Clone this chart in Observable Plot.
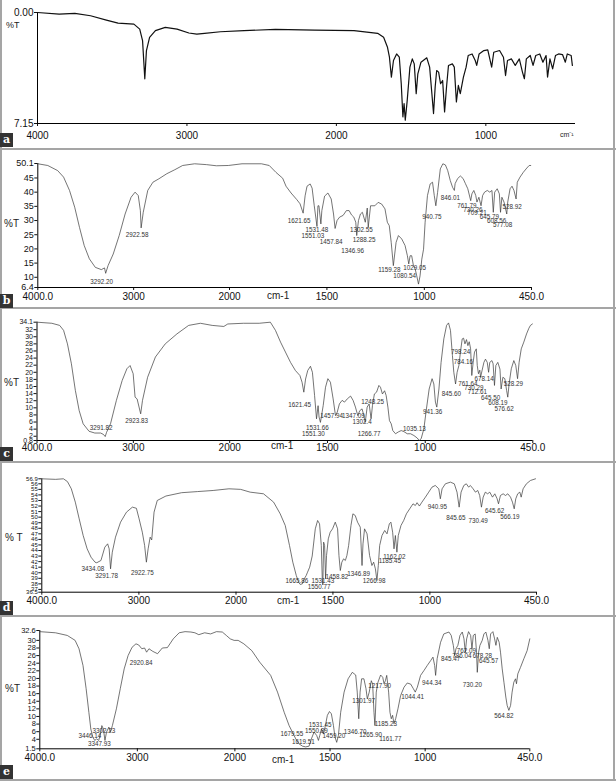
<!DOCTYPE html>
<html><head><meta charset="utf-8">
<script src="https://cdn.jsdelivr.net/npm/d3@7"></script>
<script src="https://cdn.jsdelivr.net/npm/@observablehq/plot@0.6"></script>
<style>
body{margin:0;background:#fff;}
#fig{position:relative;width:616px;height:781px;overflow:hidden;font-family:"Liberation Sans",Arial,sans-serif;background:#fff;color:#111}
.panel{position:absolute;left:0;width:616px}
.lab{position:absolute;font-size:10px;color:#222;white-space:nowrap;line-height:1}
.box{position:absolute;left:0;width:13px;height:14px;background:#333;color:#fff;font-family:"DejaVu Serif",serif;font-weight:bold;font-size:11px;text-align:center;line-height:13px;z-index:3}
.sep{position:absolute;left:0;width:616px;height:2px;background:#a5a5a5;z-index:2}
.vsep{position:absolute;top:0;width:2px;height:781px;background:#a5a5a5;z-index:2}
#fig svg{overflow:visible}
[aria-label^="x-axis"] text{font-size:10px}
#pa [aria-label^="y-axis"] text{font-size:10px}
#pb [aria-label^="y-axis"] text{font-size:9px}
#pc [aria-label^="y-axis"] text{font-size:7px}
#pd [aria-label^="y-axis"] text{font-size:6px}
#pe [aria-label^="y-axis"] text{font-size:7.5px}
</style></head>
<body>
<div id="fig"></div>
<script>
// ---------------- DATA ----------------
const specA = [[4000,0.00],[3855,0.11],[3750,0.06],[3645,0.21],[3539,0.49],[3461,0.68],[3355,0.75],[3316,1.07],[3297,1.81],[3282,4.27],[3271,2.45],[3250,1.60],[3211,1.17],[3145,0.96],[3066,1.07],[2987,1.32],[2934,1.39],[2882,1.34],[2776,1.24],[2618,1.17],[2408,1.09],[2145,1.13],[1882,1.17],[1724,1.34],[1684,1.60],[1658,2.24],[1645,2.88],[1632,4.16],[1618,3.09],[1597,2.67],[1579,2.88],[1566,4.59],[1555,6.72],[1547,5.87],[1539,6.94],[1526,5.66],[1508,3.52],[1492,2.99],[1479,3.31],[1466,5.23],[1455,3.95],[1434,3.20],[1395,2.92],[1376,3.52],[1361,5.23],[1350,6.51],[1339,4.80],[1329,3.74],[1316,3.84],[1303,4.59],[1289,4.38],[1276,6.40],[1263,4.80],[1250,3.41],[1224,3.31],[1211,3.52],[1197,5.76],[1184,4.70],[1171,5.23],[1150,4.16],[1132,3.52],[1118,2.77],[1092,2.67],[1071,3.09],[1061,3.41],[1045,2.67],[1013,2.45],[987,2.41],[961,3.52],[947,2.56],[908,2.45],[882,2.88],[868,4.06],[855,3.09],[829,2.99],[803,3.41],[776,2.99],[755,3.84],[742,4.27],[729,2.99],[703,2.77],[684,3.41],[666,2.77],[639,2.67],[618,3.20],[597,2.77],[587,4.16],[571,2.99],[553,3.63],[534,2.77],[513,2.67],[487,2.71],[468,3.20],[455,2.67],[429,2.77],[421,3.41]];

const specB = [[4000,50.0],[3896,49.4],[3793,47.6],[3731,45.3],[3669,40.6],[3615,34.7],[3565,27.6],[3516,21.2],[3462,16.5],[3400,13.5],[3337,12.7],[3304,13.3],[3292,11.4],[3267,14.1],[3213,18.2],[3151,24.7],[3089,32.3],[3027,38.2],[2985,40.0],[2952,38.8],[2930,33.5],[2922,27.4],[2900,32.9],[2853,40.6],[2799,43.5],[2737,44.7],[2654,46.5],[2571,47.9],[2489,49.4],[2364,50.0],[2240,49.7],[2137,49.3],[2012,49.4],[1936,50.0],[1836,50.0],
[1796,49.4],[1762,47.0],[1727,44.9],[1710,42.1],[1684,39.7],[1655,37.4],[1638,35.9],[1622,32.6],[1612,38.7],[1602,42.1],[1586,42.9],[1576,41.4],[1565,35.2],[1551,27.9],[1546,35.2],[1541,35.2],[1531,28.8],[1526,33.5],[1512,38.6],[1495,39.7],[1478,37.6],[1466,32.3],[1458,27.2],[1448,30.0],[1435,31.2],[1417,31.8],[1400,33.5],[1386,33.5],[1374,32.0],[1362,31.2],[1352,29.4],[1347,24.7],[1338,30.0],[1328,32.3],[1318,32.9],[1303,29.4],[1293,34.4],[1288,27.6],[1276,35.2],[1254,35.2],[1237,36.4],[1219,35.8],[1202,34.1],[1190,29.4],[1180,28.2],[1170,22.3],[1159,14.1],[1145,22.3],[1133,24.7],[1116,23.5],[1099,21.2],[1087,17.6],[1080,14.7],[1073,17.6],[1065,17.6],[1056,14.1],[1047,12.9],[1039,10.5],[1030,7.6],[1022,10.5],[1013,16.4],[1004,19.9],[996,29.4],[984,38.8],[970,42.9],[958,43.5],[949,38.8],[941,35.2],[932,39.9],[918,48.2],[905,50.0],[892,49.6],[880,47.6],[867,44.1],[855,41.7],[846,40.6],[842,43.0],[829,44.8],[815,45.7],[801,44.8],[789,43.0],[777,41.2],[762,37.0],[756,39.4],[746,40.6],[736,38.8],[730,36.5],[720,38.2],[709,35.2],[701,38.8],[691,40.0],[677,40.6],[664,40.0],[653,40.6],[646,32.9],[639,40.0],[626,41.2],[615,39.4],[609,32.9],[602,38.2],[591,36.5],[577,32.3],[572,36.5],[560,41.2],[550,42.1],[540,40.6],[529,37.6],[523,43.5],[509,45.3],[492,47.0],[474,48.5],[462,49.4],[454,49.4]];

const specC = [[4000,34.1],[3846,33.8],[3765,33.2],[3724,31.8],[3684,28.0],[3643,22.4],[3602,14.9],[3562,9.2],[3521,5.5],[3460,3.4],[3400,2.9],[3339,2.9],[3310,2.5],[3292,1.9],[3278,3.1],[3237,5.5],[3176,12.1],[3116,17.7],[3067,21.0],[3034,21.9],[3002,19.6],[2982,13.0],[2961,12.5],[2924,8.3],[2905,12.1],[2852,18.6],[2771,24.3],[2669,28.0],[2548,30.8],[2426,33.2],[2304,33.8],[2182,33.2],[2061,32.9],[2020,33.6],[1930,33.8],[1849,33.8],
[1792,34.1],[1766,31.8],[1740,28.5],[1715,25.7],[1689,22.8],[1664,20.5],[1641,19.1],[1630,17.2],[1621,14.4],[1612,18.1],[1601,20.5],[1587,21.7],[1577,20.0],[1566,13.5],[1556,6.9],[1548,10.6],[1543,7.4],[1536,5.9],[1522,10.6],[1510,15.8],[1498,18.2],[1485,17.2],[1471,12.5],[1459,7.8],[1450,8.8],[1439,11.1],[1425,12.1],[1413,11.6],[1399,12.5],[1382,13.3],[1369,12.1],[1357,10.2],[1345,7.8],[1335,9.2],[1323,9.7],[1314,7.8],[1307,5.9],[1297,10.2],[1287,11.1],[1277,6.9],[1270,10.6],[1260,13.9],[1249,14.4],[1237,16.3],[1229,15.8],[1219,13.9],[1208,14.8],[1200,13.5],[1191,10.2],[1183,6.4],[1174,5.5],[1166,3.6],[1152,2.7],[1138,3.2],[1123,3.6],[1109,3.3],[1092,2.7],[1075,2.7],[1058,2.2],[1041,1.5],[1031,0.8],[1021,1.3],[1007,4.1],[994,9.7],[980,15.3],[965,18.2],[956,16.7],[948,11.6],[941,10.2],[930,15.3],[919,22.8],[905,29.4],[891,33.2],[881,33.9],[871,31.8],[861,24.7],[854,20.0],[845,16.7],[837,20.0],[828,21.9],[820,25.7],[811,29.4],[804,29.6],[797,28.0],[789,29.2],[782,27.5],[775,28.6],[768,26.6],[762,19.1],[755,22.8],[748,25.7],[739,26.6],[734,21.9],[728,19.6],[721,20.6],[717,18.6],[709,20.6],[700,22.8],[692,23.7],[683,22.8],[676,20.0],[670,22.8],[659,23.3],[653,22.4],[646,16.3],[639,21.9],[629,22.8],[618,20.9],[612,15.3],[603,18.6],[593,18.2],[584,14.9],[578,13.0],[571,16.8],[560,21.0],[547,23.3],[537,21.9],[528,18.2],[520,22.8],[509,26.6],[496,28.5],[482,30.8],[470,32.4],[462,33.2],[452,33.6]];

const specD = [[4000,56.9],[3858,56.8],[3777,56.9],[3736,56.4],[3696,55.1],[3655,52.7],[3615,49.7],[3574,46.7],[3533,44.3],[3493,42.8],[3452,41.9],[3434,41.8],[3391,42.2],[3351,44.6],[3322,45.2],[3306,44.3],[3292,40.7],[3274,43.7],[3241,46.4],[3189,49.1],[3128,50.9],[3067,51.8],[3026,51.6],[2998,49.7],[2965,47.3],[2941,44.9],[2923,41.9],[2905,44.3],[2884,46.4],[2868,45.9],[2844,50.9],[2811,53.0],[2722,53.8],[2560,54.4],[2397,54.6],[2235,54.8],[2073,55.1],[1976,55.0],
[1927,54.5],[1858,54.2],[1806,52.7],[1772,50.6],[1746,48.5],[1724,44.9],[1707,41.9],[1689,39.5],[1677,38.3],[1669,37.9],[1658,38.0],[1648,38.9],[1638,39.5],[1631,40.1],[1620,41.0],[1607,43.0],[1591,47.9],[1579,49.4],[1569,48.8],[1560,44.9],[1555,38.9],[1552,37.8],[1548,45.5],[1543,44.9],[1538,38.9],[1533,43.1],[1524,46.1],[1514,47.3],[1502,47.9],[1488,49.1],[1476,47.9],[1469,43.1],[1462,40.4],[1454,41.9],[1445,42.5],[1436,42.2],[1428,43.1],[1419,44.9],[1407,48.5],[1397,50.6],[1385,50.3],[1373,49.1],[1359,48.2],[1350,41.3],[1345,45.2],[1337,47.9],[1324,47.0],[1311,43.1],[1299,41.3],[1290,41.9],[1281,40.7],[1273,38.6],[1266,41.3],[1259,44.9],[1247,46.7],[1233,47.6],[1221,47.0],[1209,48.8],[1201,49.1],[1192,47.3],[1185,44.3],[1178,46.7],[1170,43.7],[1163,46.7],[1149,48.5],[1135,49.4],[1121,50.6],[1104,51.5],[1087,52.4],[1075,52.1],[1066,52.6],[1054,52.0],[1041,52.7],[1023,53.6],[1006,54.5],[989,55.4],[972,55.7],[954,55.1],[946,53.3],[937,55.1],[920,56.0],[894,56.3],[874,56.0],[860,54.5],[849,51.8],[839,54.5],[825,55.7],[812,56.0],[800,55.4],[791,55.7],[777,55.1],[765,54.5],[753,54.8],[743,53.9],[734,51.8],[725,53.6],[714,54.5],[702,54.2],[691,54.5],[677,53.6],[665,54.2],[653,53.3],[646,52.4],[636,53.9],[622,54.2],[610,53.9],[598,54.2],[584,53.6],[574,52.7],[565,51.5],[557,53.3],[547,54.2],[536,54.5],[529,53.6],[519,55.1],[502,56.0],[481,56.6],[455,56.9]];

const specE = [[4000,32.3],[3839,32.0],[3718,31.3],[3638,30.0],[3598,27.8],[3557,23.4],[3525,17.3],[3497,11.1],[3477,6.7],[3457,4.6],[3437,3.7],[3417,4.1],[3396,3.7],[3376,5.7],[3364,7.6],[3348,6.7],[3332,3.7],[3316,5.9],[3292,7.2],[3276,5.9],[3256,7.6],[3215,12.0],[3175,17.3],[3135,22.5],[3095,26.0],[3054,28.2],[3014,29.1],[2986,28.8],[2954,27.8],[2926,28.0],[2905,26.9],[2881,27.8],[2841,27.1],[2793,26.5],[2744,28.0],[2692,28.1],[2632,30.4],[2571,32.0],[2511,32.3],[2451,32.2],[2410,32.0],[2370,31.5],[2310,32.0],[2249,31.7],[2189,32.3],[2129,32.2],[2088,31.3],[2048,30.4],[2008,30.0],[1983,30.0],[1953,29.1],[1911,27.3],[1870,24.3],
[1812,20.8],[1776,16.4],[1741,11.1],[1715,7.6],[1698,5.9],[1680,4.1],[1663,2.8],[1645,2.2],[1628,2.0],[1610,2.2],[1598,4.1],[1584,5.9],[1570,5.0],[1561,3.7],[1554,5.0],[1545,6.7],[1535,5.4],[1526,7.2],[1514,10.3],[1503,11.3],[1493,10.7],[1482,7.6],[1474,4.6],[1465,3.2],[1456,5.0],[1444,11.1],[1426,16.4],[1405,19.9],[1383,21.6],[1365,20.9],[1357,16.4],[1349,9.4],[1342,16.4],[1334,19.9],[1322,19.9],[1311,17.3],[1304,14.6],[1294,16.4],[1283,19.4],[1276,18.5],[1269,11.1],[1264,7.6],[1257,16.4],[1248,19.0],[1234,20.9],[1223,20.3],[1216,18.6],[1209,19.4],[1202,20.8],[1192,16.4],[1185,11.1],[1178,9.4],[1171,10.3],[1164,8.1],[1155,9.4],[1143,12.0],[1129,15.5],[1111,17.7],[1094,18.8],[1076,18.5],[1062,17.3],[1052,16.4],[1041,17.7],[1024,20.8],[1006,22.1],[989,23.4],[971,24.7],[959,25.6],[950,23.4],[945,20.8],[937,25.2],[919,29.5],[902,31.7],[875,32.2],[863,31.3],[852,28.7],[845,26.0],[838,27.8],[828,28.7],[817,31.3],[805,32.2],[796,30.4],[789,26.9],[782,30.4],[772,32.3],[761,31.3],[754,27.8],[747,31.3],[737,31.7],[730,26.9],[726,21.6],[719,26.9],[712,28.7],[700,30.0],[691,31.7],[681,32.2],[670,30.0],[663,27.8],[656,31.7],[644,32.3],[635,30.4],[628,28.7],[621,30.8],[611,29.5],[604,26.9],[595,22.5],[586,19.0],[576,15.1],[569,12.9],[560,11.6],[551,12.9],[543,16.4],[534,19.0],[525,19.9],[520,18.6],[513,21.2],[499,22.9],[481,25.2],[464,27.3],[450,30.4]];

// peak labels: [label text (= wavenumber), %T level of label]
const peaksB = [["3292.20",8.5],["2922.58",25.0],["1621.65",30.0],["1531.48",26.8],["1551.03",24.7],["1457.84",22.6],["1346.96",19.4],["1302.55",26.5],["1288.25",23.3],["1159.28",12.7],["1029.05",13.2],["1080.54",10.3],["940.75",31.2],["846.01",37.9],["761.79",35.0],["730.26",33.7],["709.21",32.6],["645.79",31.2],["608.56",30.0],["577.08",28.6],["528.92",34.7]];
const peaksC = [["3291.82",4.4],["2923.83",6.2],["1621.45",10.8],["1531.66",4.3],["1551.30",2.7],["1457.94",7.8],["1347.09",7.8],["1302.4",6.1],["1266.77",2.7],["1248.25",11.6],["1035.13",4.1],["941.36",8.8],["798.24",25.7],["784.16",22.8],["845.60",13.9],["761.64",16.7],["730.29",15.5],["712.61",14.4],["678.14",18.2],["645.50",12.7],["608.19",11.4],["576.62",9.7],["528.29",16.7]];
const peaksD = [["3434.08",40.6],["3291.78",39.4],["2922.75",40.0],["1665.86",38.6],["1531.43",38.6],["1550.77",37.4],["1458.82",39.2],["1346.89",39.8],["1266.98",38.6],["1162.02",42.9],["1185.45",42.1],["940.95",51.8],["845.65",49.9],["730.49",49.3],["645.62",51.2],["566.19",50.0]];
const peaksE = [["3446.14",4.8],["3347.93",2.8],["3302.23",6.3],["2920.84",24.1],["1679.55",5.4],["1619.51",3.4],["1531.45",7.8],["1550.89",6.3],["1459.20",5.0],["1346.70",5.9],["1301.97",14.2],["1265.90",5.2],["1217.90",18.1],["1185.23",8.1],["1161.77",4.1],["1044.41",15.1],["944.34",18.8],["845.47",25.2],["786.04",26.0],["762.09",27.3],["730.20",18.3],["678.28",26.0],["645.57",24.7],["564.82",10.1]];

// ticks
const xTicksA = [4000, 3000, 2000, 1000];
const xTickLabelsA = ["4000", "3000", "2000", "1000"];
const xTicks = [4000, 3000, 2000, 1500, 1000, 450];
const xTickLabels = ["4000.0", "3000", "2000", "1500", "1000", "450.0"];
const yTicksA = [0, 7.15];
const yTickLabelsA = ["0.00", "7.15"];
const yTicksB = [50.1, 45, 40, 35, 30, 25, 20, 15, 10, 6.4];
const yTicksC = [34.1, 32, 30, 28, 26, 24, 22, 20, 18, 16, 14, 12, 10, 8, 6, 4, 2, 0.8];
const yTicksD = [56.9, 56, 55, 54, 53, 52, 51, 50, 49, 48, 47, 46, 45, 44, 43, 42, 41, 40, 39, 38, 37, 36.5];
const yTicksE = [32.6, 30, 28, 26, 24, 22, 20, 18, 16, 14, 12, 10, 8, 6, 4, 1.5];

// ---------------- LAYOUT ----------------
const fig = document.getElementById("fig");
const panels = [
  {id:"pa", top:0, height:150, mt:12, mb:27, ml:37, mr:41, spec:specA,
   xDomain:[4000,400], xRange:[37,575], xt:xTicksA, xl:xTickLabelsA, xpad:5,
   yDomain:[7.15,0], yt:yTicksA, yf:d=>yTickLabelsA[yTicksA.indexOf(d)], stroke:"#111", sw:1.2, peaks:null},
  {id:"pb", top:150, height:158, mt:13, mb:21, ml:37.3, mr:85, spec:specB,
   xDomain:[4000,2000,450], xRange:[37.3,229,531], xt:xTicks, xl:xTickLabels, xpad:2,
   yDomain:[6.4,50.1], yt:yTicksB, yf:d=>String(d), stroke:"#3a3a3a", sw:0.7, peaks:peaksB},
  {id:"pc", top:308, height:155, mt:13.7, mb:23, ml:36.5, mr:83.7, spec:specC,
   xDomain:[4000,2000,450], xRange:[36.5,229.2,532.3], xt:xTicks, xl:xTickLabels, xpad:0,
   yDomain:[0.8,34.1], yt:yTicksC, yf:d=>String(d), stroke:"#3a3a3a", sw:0.7, peaks:peaksC},
  {id:"pd", top:463, height:154, mt:15.3, mb:25.3, ml:41.3, mr:80, spec:specD,
   xDomain:[4000,2000,450], xRange:[41.3,235.5,536], xt:xTicks, xl:xTickLabels, xpad:2,
   yDomain:[36.5,56.9], yt:yTicksD, yf:d=>String(d), stroke:"#3a3a3a", sw:0.7, peaks:peaksD},
  {id:"pe", top:617, height:164, mt:13, mb:32.7, ml:39.3, mr:86.7, spec:specE,
   xDomain:[4000,2000,450], xRange:[39.3,234.4,529.3], xt:xTicks, xl:xTickLabels, xpad:2,
   yDomain:[1.5,32.6], yt:yTicksE, yf:d=>String(d), stroke:"#3a3a3a", sw:0.7, peaks:peaksE}
];

for (const p of panels) {
  const data = p.spec.map(([w, t]) => ({w, t}));
  const marks = [
    Plot.ruleX([p.xDomain[0]], {stroke:"#000", strokeWidth:1}),
    Plot.ruleY([p.yDomain[0]], {stroke:"#000", strokeWidth:1}),
    Plot.line(data, {x:"w", y:"t", stroke:p.stroke, strokeWidth:p.sw, curve:"linear"})
  ];
  if (p.peaks) {
    marks.push(Plot.text(p.peaks, {x:d=>+d[0], y:d=>d[1], text:d=>d[0], fontSize:6.3, fill:"#333", dx:-4}));
  }
  const chart = Plot.plot({
    width:616, height:p.height,
    marginTop:p.mt, marginBottom:p.mb, marginLeft:p.ml, marginRight:p.mr,
    x:{type:"linear", domain:p.xDomain, range:p.xRange, ticks:p.xt, tickFormat:d=>p.xl[p.xt.indexOf(d)], tickSize:3, tickPadding:p.xpad, label:null},
    y:{type:"linear", domain:p.yDomain, ticks:p.yt, tickFormat:p.yf, tickSize:3, tickPadding:1, label:null},
    style:{background:"transparent", fontFamily:"'Liberation Sans', Arial, sans-serif", fontSize:"10px", color:"#111", overflow:"visible"},
    marks
  });
  const div = document.createElement("div");
  div.className = "panel"; div.id = p.id;
  div.style.top = p.top + "px"; div.style.height = p.height + "px";
  div.appendChild(chart);
  fig.appendChild(div);
}

// text labels, letter boxes, separators
const labels = [
  ["%T", 6, 21, 9], ["cm\u207B\u00B9", 560, 131, 7],
  ["%T", 4, 219, 10], ["cm-1", 267, 291, 10],
  ["%T", 4, 378, 10], ["cm-1", 271, 441, 10],
  ["% T", 5, 533, 10], ["cm-1", 277, 596, 10],
  ["%T", 5, 684, 10], ["cm-1", 272, 755, 10]
];
for (const [t, x, y, fs] of labels) {
  const el = document.createElement("div");
  el.className = "lab"; el.textContent = t;
  el.style.left = x + "px"; el.style.top = y + "px"; el.style.fontSize = fs + "px";
  fig.appendChild(el);
}
const boxes = [["a",133],["b",294],["c",447],["d",601],["e",765]];
for (const [t, y] of boxes) {
  const el = document.createElement("div");
  el.className = "box"; el.textContent = t; el.style.top = y + "px";
  fig.appendChild(el);
}
for (const y of [148, 307, 461, 615, 779]) {
  const el = document.createElement("div");
  el.className = "sep"; el.style.top = y + "px";
  fig.appendChild(el);
}
for (const x of [0, 613]) {
  const el = document.createElement("div");
  el.className = "vsep"; el.style.left = x + "px";
  fig.appendChild(el);
}
</script>
</body></html>
